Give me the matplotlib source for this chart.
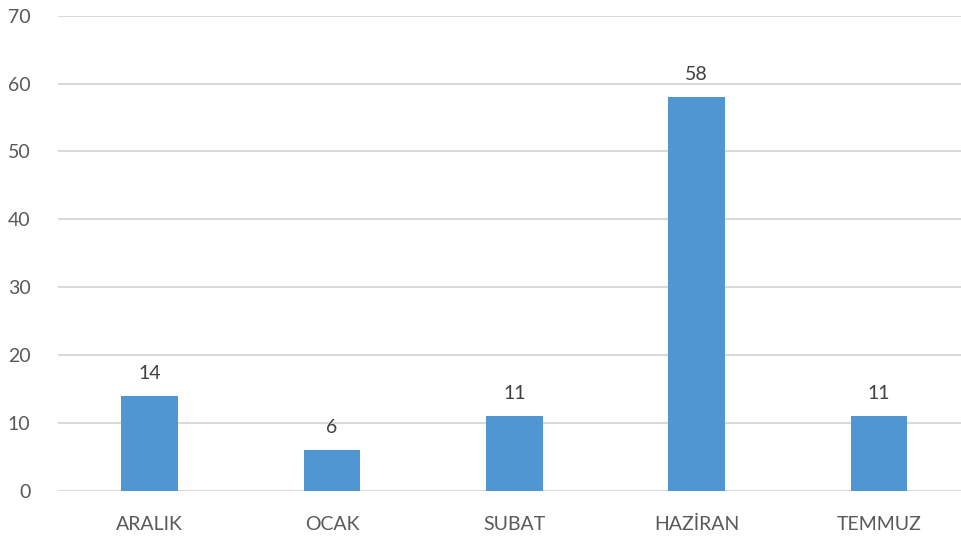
import matplotlib
matplotlib.use("Agg")
import matplotlib.pyplot as plt

categories = ["ARALIK", "OCAK", "SUBAT", "HAZİRAN", "TEMMUZ"]
values = [14, 6, 11, 58, 11]
y_ticks = [0, 10, 20, 30, 40, 50, 60, 70]

BAR_COLOR = "#4F96D2"
GRID_COLOR = "#D9D9D9"
TEXT_COLOR = "#595959"

plt.rcParams["font.family"] = ["Lato", "DejaVu Sans"]

fig = plt.figure(figsize=(9.61, 5.4), dpi=100)
# plot area runs past the right edge of the picture, as in the reference
ax = fig.add_axes([58.3 / 961, 49.5 / 540, 912 / 961, 474.8 / 540])

x = list(range(len(categories)))
bars = ax.bar(x, values, width=0.31, color=BAR_COLOR, zorder=3)
for xi, v in zip(x, values):
    ax.annotate(str(v), (xi, v), xytext=(0, 10), textcoords="offset points",
                ha="center", va="bottom", fontsize=14, color="#404040")

ax.set_xlim(-0.5, len(categories) - 0.5)
ax.set_ylim(0, 70)
ax.set_yticks(y_ticks)
ax.set_xticks(x)
ax.set_xticklabels(categories)
ax.tick_params(axis="both", length=0, labelsize=14, labelcolor=TEXT_COLOR)
ax.tick_params(axis="y", pad=20)
ax.tick_params(axis="x", pad=18)
ax.yaxis.grid(True, color=GRID_COLOR, lw=1.5, zorder=0)
ax.set_axisbelow(True)
for s in ax.spines.values():
    s.set_visible(False)

fig.savefig("out.png", dpi=100)
